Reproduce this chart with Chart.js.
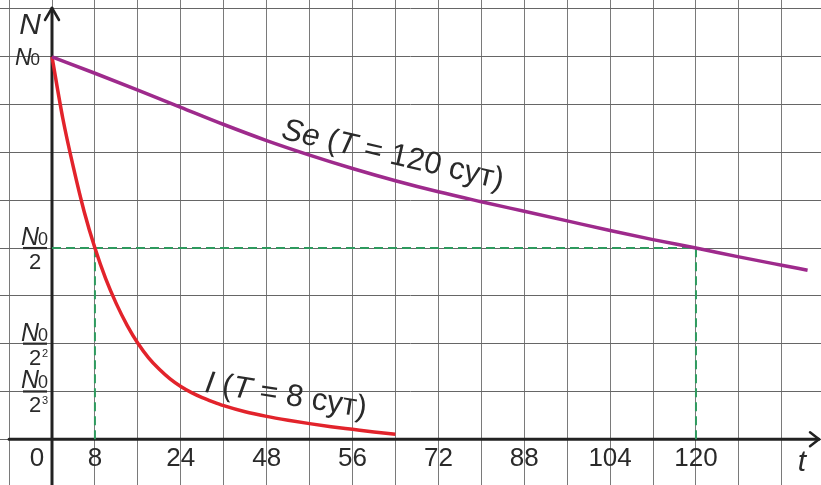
<!DOCTYPE html>
<html>
<head>
<meta charset="utf-8">
<script src="https://cdn.jsdelivr.net/npm/chart.js@4"></script>
<style>
  html, body { margin: 0; padding: 0; background: #fff; }
  #wrap { width: 821px; height: 485px; }
</style>
</head>
<body>
<div id="wrap"><canvas id="chart"></canvas></div>
<script>
// Decay curves: t in days, N as a fraction of N0
const iodineDays = [0, 2, 4, 6, 8, 10, 12, 14, 16, 18, 20, 22, 24, 26, 28, 30, 32, 36, 40, 44, 48, 52, 56, 60, 64];
const iodineValues = [1.0, 0.84, 0.71, 0.595, 0.5, 0.42, 0.354, 0.298, 0.251, 0.213, 0.183, 0.158, 0.138, 0.122, 0.109, 0.098, 0.088, 0.072, 0.06, 0.05, 0.041, 0.033, 0.026, 0.019, 0.013];

const seleniumDays = [0, 8, 16, 24, 32, 40, 48, 56, 64, 72, 80, 88, 96, 104, 112, 120, 128, 136, 140.8];
const seleniumValues = [1.0, 0.957, 0.913, 0.868, 0.823, 0.781, 0.743, 0.708, 0.676, 0.647, 0.621, 0.596, 0.571, 0.546, 0.522, 0.5, 0.477, 0.455, 0.442];

// half-life marks (dashed green guides)
const halfLives = [8, 120];
const halfLevel = 0.5;

// grid cells: 8 days wide, N0/8 high
const gridDays = [-8, 0, 8, 16, 24, 32, 40, 48, 56, 64, 72, 80, 88, 96, 104, 112, 120, 128, 136];
const gridLevels = [0, 0.125, 0.25, 0.375, 0.5, 0.625, 0.75, 0.875, 1, 1.125];

// t axis labels as printed on the original
const dayTicks = [8, 24, 40, 56, 72, 88, 104, 120];
const dayLabels = ['8', '24', '48', '56', '72', '88', '104', '120'];

// N axis marks: N0, N0/2, N0/2², N0/2³
const levelTicks = [1, 0.5, 0.25, 0.125];
const levelExponents = [null, '', '2', '3'];

// curve captions
const seCaption = [['Se', true], [' (', false], ['T', true], [' = 120 сут)', false]];
const iCaption = [['I', true], [' (', false], ['T', true], [' = 8 сут)', false]];

const FONT = '"Liberation Sans", Arial, sans-serif';
const TEXT = '#2a2a2a';

function toPoints(xs, ys) {
    return xs.map((x, i) => ({ x: x, y: ys[i] }));
}

function drawMixed(ctx, parts, size) {
    let total = 0;
    parts.forEach(p => {
        ctx.font = (p[1] ? 'italic ' : '') + size + 'px ' + FONT;
        total += ctx.measureText(p[0]).width;
    });
    let x = -total / 2;
    parts.forEach(p => {
        ctx.font = (p[1] ? 'italic ' : '') + size + 'px ' + FONT;
        ctx.fillText(p[0], x, 0);
        x += ctx.measureText(p[0]).width;
    });
}

// "N0" with the small zero, centred on cx, sitting on baseline by
function drawN0(ctx, cx, by, size) {
    ctx.font = 'italic ' + size + 'px ' + FONT;
    const wN = ctx.measureText('N').width;
    ctx.font = Math.round(size * 0.72) + 'px ' + FONT;
    const w0 = ctx.measureText('0').width;
    let x = cx - (wN + w0) / 2;
    ctx.textAlign = 'left';
    ctx.textBaseline = 'alphabetic';
    ctx.font = 'italic ' + size + 'px ' + FONT;
    ctx.fillText('N', x, by);
    ctx.font = Math.round(size * 0.72) + 'px ' + FONT;
    ctx.fillText('0', x + wN - 1, by);
}

const decorPlugin = {
    id: 'decor',
    beforeDatasetsDraw(chart) {
        const ctx = chart.ctx;
        const xs = chart.scales.x, ys = chart.scales.y;
        const area = chart.chartArea;
        const x0 = xs.getPixelForValue(0);
        const y0 = ys.getPixelForValue(0);
        ctx.save();
        ctx.strokeStyle = '#222';
        ctx.lineWidth = 3;
        ctx.lineCap = 'round';
        ctx.lineJoin = 'round';
        // t axis with arrow
        const tipX = area.right - 2;
        ctx.beginPath();
        ctx.moveTo(xs.getPixelForValue(gridDays[0]), y0);
        ctx.lineTo(tipX, y0);
        ctx.stroke();
        ctx.lineWidth = 2.5;
        ctx.beginPath();
        ctx.moveTo(tipX - 9, y0 - 7);
        ctx.lineTo(tipX, y0);
        ctx.lineTo(tipX - 9, y0 + 7);
        ctx.stroke();
        // N axis with arrow
        const tipY = area.top + 8;
        ctx.lineWidth = 3;
        ctx.beginPath();
        ctx.moveTo(x0, area.bottom);
        ctx.lineTo(x0, tipY);
        ctx.stroke();
        ctx.lineWidth = 2.5;
        ctx.beginPath();
        ctx.moveTo(x0 - 7, tipY + 12);
        ctx.lineTo(x0, tipY);
        ctx.lineTo(x0 + 7, tipY + 12);
        ctx.stroke();
        ctx.restore();
    },
    afterDatasetsDraw(chart) {
        const ctx = chart.ctx;
        const xs = chart.scales.x, ys = chart.scales.y;
        const x0 = xs.getPixelForValue(0);
        const y0 = ys.getPixelForValue(0);
        ctx.save();
        ctx.fillStyle = TEXT;
        ctx.strokeStyle = TEXT;

        // axis names
        ctx.textAlign = 'center';
        ctx.textBaseline = 'alphabetic';
        ctx.font = 'italic 30px ' + FONT;
        ctx.fillText('N', x0 - 22, 34);
        ctx.fillText('t', 802, 471);

        // origin label
        ctx.font = '26px ' + FONT;
        ctx.textBaseline = 'middle';
        ctx.fillText('0', x0 - 15, y0 + 20);

        // N axis levels
        levelTicks.forEach((v, i) => {
            const py = ys.getPixelForValue(v);
            const exp = levelExponents[i];
            if (exp === null) {
                drawN0(ctx, x0 - 24, py + 8, 23);
                return;
            }
            drawN0(ctx, x0 - 17, py - 3, 25);
            ctx.lineWidth = 2.2;
            ctx.beginPath();
            ctx.moveTo(x0 - 29, py);
            ctx.lineTo(x0 - 5, py);
            ctx.stroke();
            ctx.textBaseline = 'alphabetic';
            ctx.textAlign = 'center';
            ctx.font = '22px ' + FONT;
            ctx.fillText('2', x0 - 17, py + 21);
            if (exp) {
                ctx.font = '11px ' + FONT;
                ctx.textAlign = 'left';
                ctx.fillText(exp, x0 - 10, py + 13);
            }
        });

        // curve captions
        const caps = chart.options.plugins.decor.captions;
        caps.forEach(c => {
            ctx.save();
            ctx.translate(xs.getPixelForValue(c.t), ys.getPixelForValue(c.n));
            ctx.rotate(c.angle * Math.PI / 180);
            ctx.textAlign = 'left';
            ctx.textBaseline = 'middle';
            drawMixed(ctx, c.parts, c.size);
            ctx.restore();
        });
        ctx.restore();
    }
};

const guides = halfLives.map(t => ({
    data: [{ x: t, y: 0 }, { x: t, y: halfLevel }],
    borderColor: '#2e9a5e',
    borderWidth: 2,
    borderDash: [9, 5],
    pointRadius: 0,
    order: 3
}));
guides.push({
    data: [{ x: 0, y: halfLevel }, { x: halfLives[1], y: halfLevel }],
    borderColor: '#2e9a5e',
    borderWidth: 2,
    borderDash: [9, 5],
    pointRadius: 0,
    order: 3
});

const ctx = document.getElementById('chart').getContext('2d');
new Chart(ctx, {
    type: 'line',
    data: {
        datasets: [
            {
                label: 'Se',
                data: toPoints(seleniumDays, seleniumValues),
                borderColor: '#9e2a8c',
                borderWidth: 3.5,
                pointRadius: 0,
                cubicInterpolationMode: 'monotone',
                order: 1
            },
            {
                label: 'I',
                data: toPoints(iodineDays, iodineValues),
                borderColor: '#e2232b',
                borderWidth: 3.5,
                pointRadius: 0,
                cubicInterpolationMode: 'monotone',
                order: 1
            }
        ].concat(guides)
    },
    options: {
        responsive: true,
        maintainAspectRatio: false,
        animation: false,
        layout: { padding: 0 },
        plugins: {
            legend: { display: false },
            tooltip: { enabled: false },
            decor: {
                captions: [
                    { parts: seCaption, t: 63.5, n: 0.742, angle: 13, size: 31 },
                    { parts: iCaption, t: 43.6, n: 0.113, angle: 9, size: 31 }
                ]
            }
        },
        scales: {
            x: {
                type: 'linear',
                min: -9.69,
                max: 143.3,
                position: { y: 0 },
                border: { display: false },
                grid: { color: '#7a7a7a', lineWidth: 1, drawTicks: false },
                ticks: { display: false },
                afterBuildTicks: s => { s.ticks = gridDays.map(v => ({ value: v })); }
            },
            xLabels: {
                type: 'linear',
                min: -9.69,
                max: 143.3,
                position: { y: 0 },
                border: { display: false },
                grid: { display: false, drawTicks: false },
                ticks: {
                    color: TEXT,
                    font: { family: FONT, size: 26 },
                    padding: 4,
                    autoSkip: false,
                    maxRotation: 0,
                    callback: (v) => {
                        const i = dayTicks.indexOf(v);
                        return i >= 0 ? dayLabels[i] : '';
                    }
                },
                afterBuildTicks: s => { s.ticks = dayTicks.map(v => ({ value: v })); }
            },
            y: {
                type: 'linear',
                min: -0.1195,
                max: 1.1485,
                position: { x: 0 },
                border: { display: false },
                grid: { color: '#666666', lineWidth: 1, drawTicks: false },
                ticks: { display: false },
                afterBuildTicks: s => { s.ticks = gridLevels.map(v => ({ value: v })); }
            }
        }
    },
    plugins: [decorPlugin]
});
</script>
</body>
</html>
